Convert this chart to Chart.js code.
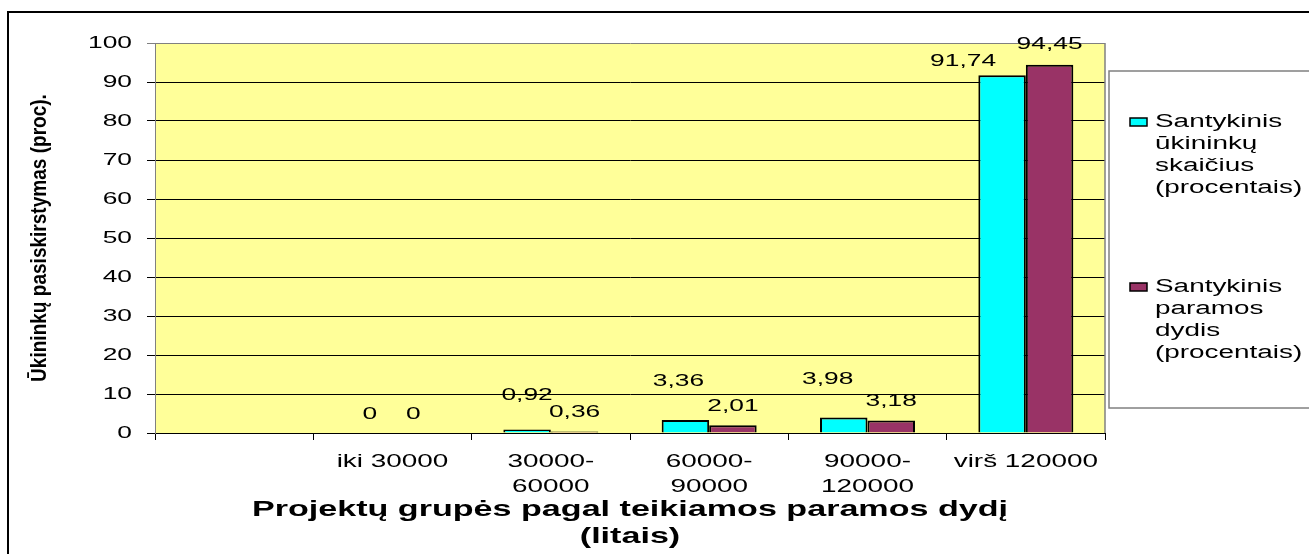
<!DOCTYPE html>
<html><head><meta charset="utf-8">
<script src="https://cdn.jsdelivr.net/npm/chart.js@4.4.0/dist/chart.umd.min.js"></script>
<style>html,body{margin:0;padding:0;background:#fff;overflow:hidden}canvas{display:block}</style>
</head><body>
<canvas id="c" width="1309" height="554"></canvas>
<script>
// ---- data ----
const categories = ['', 'iki 30000', ['30000-', '60000'], ['60000-', '90000'], ['90000-', '120000'], 'virš 120000'];
const seriesNames = ['Santykinis ūkininkų skaičius (procentais)', 'Santykinis paramos dydis (procentais)'];
const farmersShare = [null, 0, 0.92, 3.36, 3.98, 91.74];
const supportShare = [null, 0, 0.36, 2.01, 3.18, 94.45];
const yTickValues = [0, 10, 20, 30, 40, 50, 60, 70, 80, 90, 100];
const xTitle = ['Projektų grupės pagal teikiamos paramos dydį', '(litais)'];
const yTitle = 'Ūkininkų pasiskirstymas (proc).';

// ---- style ----
const FONT = '"Liberation Sans", Arial, sans-serif';
const STRETCH = 1.55;

const stretchPlugin = {
  id: 'stretch',
  beforeInit(chart) {
    const ctx = chart.ctx;
    const proto = CanvasRenderingContext2D.prototype;
    ctx.fillText = function (text, x, y, maxWidth) {
      const m = this.getTransform();
      const rotated = Math.abs(m.b) > 1e-6 || Math.abs(m.c) > 1e-6;
      this.save();
      this.translate(x, y);
      if (rotated) this.scale(1.12, 1.25); else this.scale(STRETCH, 1);
      proto.fillText.call(this, text, 0, 0);
      this.restore();
    };
  }
};

const backdrop = {
  id: 'backdrop',
  beforeDraw(chart) {
    const ctx = chart.ctx, a = chart.chartArea;
    ctx.save();
    ctx.fillStyle = '#ffffff';
    ctx.fillRect(0, 0, chart.width, chart.height);
    ctx.fillStyle = '#000';
    ctx.fillRect(7, 11, chart.width, 2);
    ctx.fillRect(7, 11, 2, chart.height);
    ctx.fillStyle = '#FFFF99';
    ctx.fillRect(a.left, a.top, a.right - a.left, a.bottom - a.top);
    ctx.restore();
  },
  beforeDatasetsDraw(chart) {
    const ctx = chart.ctx, a = chart.chartArea;
    ctx.save();
    ctx.strokeStyle = '#808080';
    ctx.lineWidth = 1.5;
    ctx.beginPath();
    ctx.moveTo(a.right, a.top);
    ctx.lineTo(a.right, a.bottom);
    ctx.stroke();
    ctx.restore();
  }
};

const valueLabels = {
  id: 'valueLabels',
  afterDatasetsDraw(chart, args, opts) {
    const ctx = chart.ctx;
    ctx.save();
    ctx.font = '17px ' + FONT;
    ctx.fillStyle = '#000';
    ctx.textAlign = 'center';
    ctx.textBaseline = 'middle';
    chart.data.datasets.forEach((ds, di) => {
      const meta = chart.getDatasetMeta(di);
      ds.data.forEach((v, i) => {
        if (v === null || v === undefined) return;
        const el = meta.data[i];
        const o = opts.offsets[di][i];
        ctx.fillText(String(v).replace('.', ','), el.x + o[0], el.y - o[1]);
      });
    });
    ctx.restore();
  }
};

const legendBox = {
  id: 'legendBox',
  afterDraw(chart, args, o) {
    const ctx = chart.ctx;
    ctx.save();
    ctx.fillStyle = '#fff';
    ctx.fillRect(o.x, o.y, o.w, o.h);
    ctx.strokeStyle = '#808080';
    ctx.lineWidth = 1.5;
    ctx.strokeRect(o.x, o.y, o.w, o.h);
    ctx.font = '18px ' + FONT;
    ctx.textBaseline = 'middle';
    ctx.textAlign = 'left';
    chart.data.datasets.forEach((ds, i) => {
      const y0 = o.itemY[i];
      ctx.fillStyle = ds.backgroundColor;
      ctx.fillRect(o.markerX, y0 - 4, 17, 8);
      ctx.strokeStyle = '#000';
      ctx.lineWidth = 1.5;
      ctx.strokeRect(o.markerX, y0 - 4, 17, 8);
      ctx.fillStyle = '#000';
      ds.label.split(' ').forEach((w, j) => ctx.fillText(w, o.textX, y0 + j * o.lineGap));
    });
    ctx.restore();
  }
};

new Chart(document.getElementById('c'), {
  type: 'bar',
  data: {
    labels: categories,
    datasets: [
      { label: seriesNames[0], data: farmersShare, backgroundColor: '#00FFFF', borderColor: '#000', borderWidth: 2 },
      { label: seriesNames[1], data: supportShare, backgroundColor: '#993366', borderColor: '#000', borderWidth: 2 }
    ]
  },
  plugins: [stretchPlugin, backdrop, valueLabels, legendBox],
  options: {
    responsive: false,
    animation: false,
    devicePixelRatio: 1,
    layout: { padding: { left: 30, top: 43, right: 204, bottom: 0 } },
    datasets: { bar: { categoryPercentage: 0.6, barPercentage: 1.0 } },
    plugins: {
      legend: { display: false },
      tooltip: { enabled: false },
      valueLabels: {
        offsets: [
          [null, [1, 19], [0, 34], [-7, 39], [-16, 38], [-39, 14]],
          [null, [-3, 19], [0, 19], [0, 19], [0, 19.5], [0, 20.5]]
        ]
      },
      legendBox: { x: 1109, y: 71, w: 220, h: 337, markerX: 1130, textX: 1155, itemY: [122, 287], lineGap: 22 }
    },
    scales: {
      x: {
        grid: { offset: true, drawOnChartArea: false, drawTicks: true, tickLength: 7, color: '#000', lineWidth: 1 },
        border: { display: true, color: '#000', width: 1 },
        ticks: { font: { family: FONT, size: 18, lineHeight: 1.36 }, color: '#000', padding: 10, maxRotation: 0, autoSkip: false },
        title: { display: true, text: xTitle, color: '#000', font: { family: FONT, size: 22, weight: 'bold', lineHeight: 1.25 }, padding: { top: 0, bottom: 3 } },
        afterFit(s) { s.height = 121; }
      },
      y: {
        min: 0, max: 100,
        afterBuildTicks(s) { s.ticks = yTickValues.map(v => ({ value: v })); },
        ticks: { font: { family: FONT, size: 17 }, color: '#000', padding: 15 },
        grid: { color: c => (c.tick && c.tick.value === 100) ? '#808080' : '#000', tickLength: 8, lineWidth: 1 },
        border: { color: '#808080', width: 1 },
        title: { display: true, text: yTitle, color: '#000', font: { family: FONT, size: 17, weight: 'bold' }, padding: 0 },
        afterFit(s) { s.width = 125; }
      }
    }
  }
});
</script>
</body></html>
